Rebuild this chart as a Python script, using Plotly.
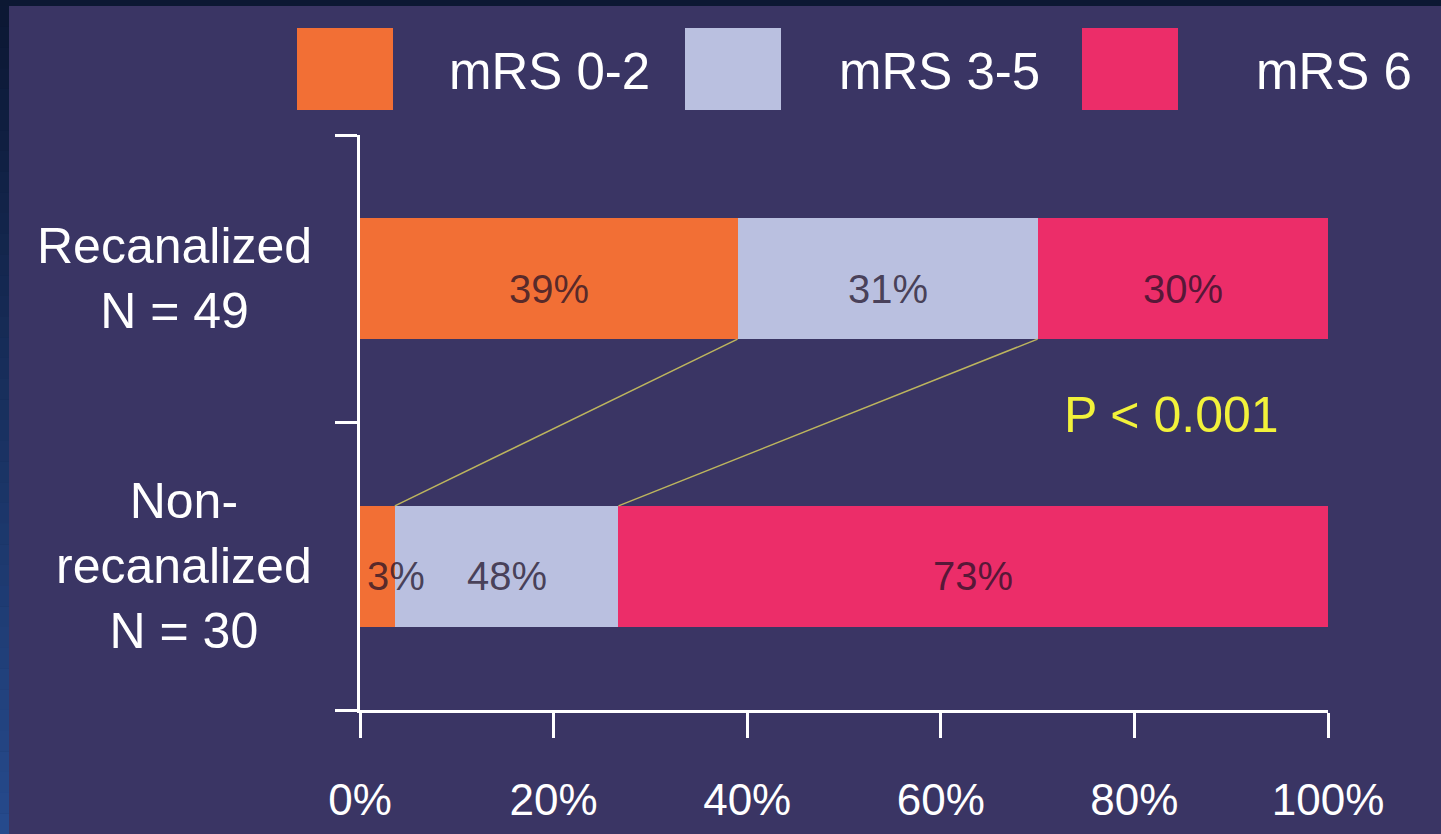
import plotly.graph_objects as go
import numpy as np

# ---------------- data ----------------
groups = ["Recanalized<br>N = 49", "Non-<br>recanalized<br>N = 30"]
group_pos = [1, 0]
series = ["mRS 0-2", "mRS 3-5", "mRS 6"]
colors = ["#f26f35", "#bac0e0", "#ec2d69"]
recan_values = [39, 31, 30]
nonrecan_values = [3.6, 23.1, 73.3]
recan_labels = ["39%", "31%", "30%"]
nonrecan_labels = ["3%", "48%", "73%"]
x_ticks = [0, 20, 40, 60, 80, 100]
x_tick_labels = ["0%", "20%", "40%", "60%", "80%", "100%"]
p_text = "P < 0.001"

# ---------------- layout geometry ----------------
W, H = 1441, 834
ML, MR, MT, MB = 360, 113, 135, 124
PW, PH = W - ML - MR, H - MT - MB
FONT = "Arial, Liberation Sans, sans-serif"
BAR_W = 0.42


def X(px):
    return (px - ML) / PW


def Y(py):
    return (H - MB - py) / PH


values = [recan_values, nonrecan_values]
labels = [recan_labels, nonrecan_labels]

fig = go.Figure()
for s, name in enumerate(series):
    fig.add_trace(go.Bar(
        orientation="h",
        x=[values[g][s] for g in range(len(groups))],
        y=group_pos,
        name=name,
        width=BAR_W,
        marker=dict(color=colors[s], line=dict(width=0)),
        showlegend=False,
        hoverinfo="skip",
    ))

# connector lines between segment boundaries
cum_top = np.cumsum(values[0])
cum_bot = np.cumsum(values[1])
for i in range(len(series) - 1):
    fig.add_trace(go.Scatter(
        x=[cum_top[i], cum_bot[i]],
        y=[group_pos[0] - BAR_W / 2, group_pos[1] + BAR_W / 2],
        mode="lines",
        line=dict(color="#bdb55e", width=1.5),
        showlegend=False,
        hoverinfo="skip",
    ))

annotations = []
# segment labels
for g in range(len(groups)):
    starts = np.concatenate([[0], np.cumsum(values[g])[:-1]])
    for s in range(len(series)):
        v = values[g][s]
        if v < 8:
            ax, anchor = starts[s] + 0.5, "left"
        else:
            ax, anchor = starts[s] + v / 2, "center"
        annotations.append(dict(
            x=ax, y=group_pos[g], xref="x", yref="y",
            text=labels[g][s], showarrow=False, xanchor=anchor, yanchor="middle",
            yshift=-10,
            font=dict(family=FONT, size=40, color="rgba(30,16,38,0.74)"),
        ))

# category labels
for g, txt in enumerate(groups):
    annotations.append(dict(
        x=X(314), y=group_pos[g], xref="paper", yref="y",
        text=txt, showarrow=False, xanchor="right", yanchor="middle",
        align="center",
        font=dict(family=FONT, size=50, color="white"),
    ))

# P value
annotations.append(dict(
    x=X(1062), y=Y(415), xref="paper", yref="paper", text=p_text,
    showarrow=False, xanchor="left", yanchor="middle",
    font=dict(family=FONT, size=50, color="#f2f23a"),
))

shapes = []
# background panel & strips
shapes.append(dict(type="rect", xref="paper", yref="paper", layer="below",
                   x0=X(0), x1=X(W), y0=Y(H), y1=Y(0),
                   fillcolor="#0c1833", line=dict(width=0)))
nstep = 40
for k in range(nstep):
    t = k / (nstep - 1)
    r = int(12 + (38 - 12) * t)
    gcol = int(24 + (74 - 24) * t)
    b = int(52 + (140 - 52) * t)
    y0p = 6 + (H - 6) * k / nstep
    y1p = 6 + (H - 6) * (k + 1) / nstep
    shapes.append(dict(type="rect", xref="paper", yref="paper", layer="below",
                       x0=X(0), x1=X(9), y0=Y(y1p + 0.5), y1=Y(y0p),
                       fillcolor=f"rgb({r},{gcol},{b})", line=dict(width=0)))
shapes.append(dict(type="rect", xref="paper", yref="paper", layer="below",
                   x0=X(9), x1=X(W), y0=Y(H), y1=Y(6),
                   fillcolor="#3a3564", line=dict(width=0)))

# manual legend
legend_box_x = [297, 685, 1082]
legend_text_x = [447, 837, 1254]
for s, name in enumerate(series):
    shapes.append(dict(type="rect", xref="paper", yref="paper",
                       x0=X(legend_box_x[s]), x1=X(legend_box_x[s] + 96),
                       y0=Y(110), y1=Y(28),
                       fillcolor=colors[s], line=dict(width=0)))
    annotations.append(dict(
        x=X(legend_text_x[s]), y=Y(71), xref="paper", yref="paper",
        text=name, showarrow=False, xanchor="left", yanchor="middle",
        font=dict(family=FONT, size=51, color="white"),
    ))

fig.update_layout(
    width=W, height=H, autosize=False,
    margin=dict(l=ML, r=MR, t=MT, b=MB, pad=0, autoexpand=False),
    barmode="stack",
    paper_bgcolor="#0c1833",
    plot_bgcolor="rgba(0,0,0,0)",
    shapes=shapes,
    annotations=annotations,
    xaxis=dict(
        range=[0, 100], showgrid=False, zeroline=False, automargin=False,
        showline=True, linecolor="white", linewidth=3,
        ticks="outside", ticklen=25, tickwidth=3, tickcolor="white",
        tickvals=x_ticks, ticktext=x_tick_labels,
        tickfont=dict(family=FONT, size=44, color="white"),
        ticklabelstandoff=24,
    ),
    yaxis=dict(
        range=[-0.5, 1.5], showgrid=False, zeroline=False, automargin=False,
        showline=True, linecolor="white", linewidth=3,
        ticks="outside", ticklen=22, tickwidth=3, tickcolor="white",
        tickvals=[-0.5, 0.5, 1.5], ticktext=["", "", ""],
    ),
)

fig.write_html("out.html")
